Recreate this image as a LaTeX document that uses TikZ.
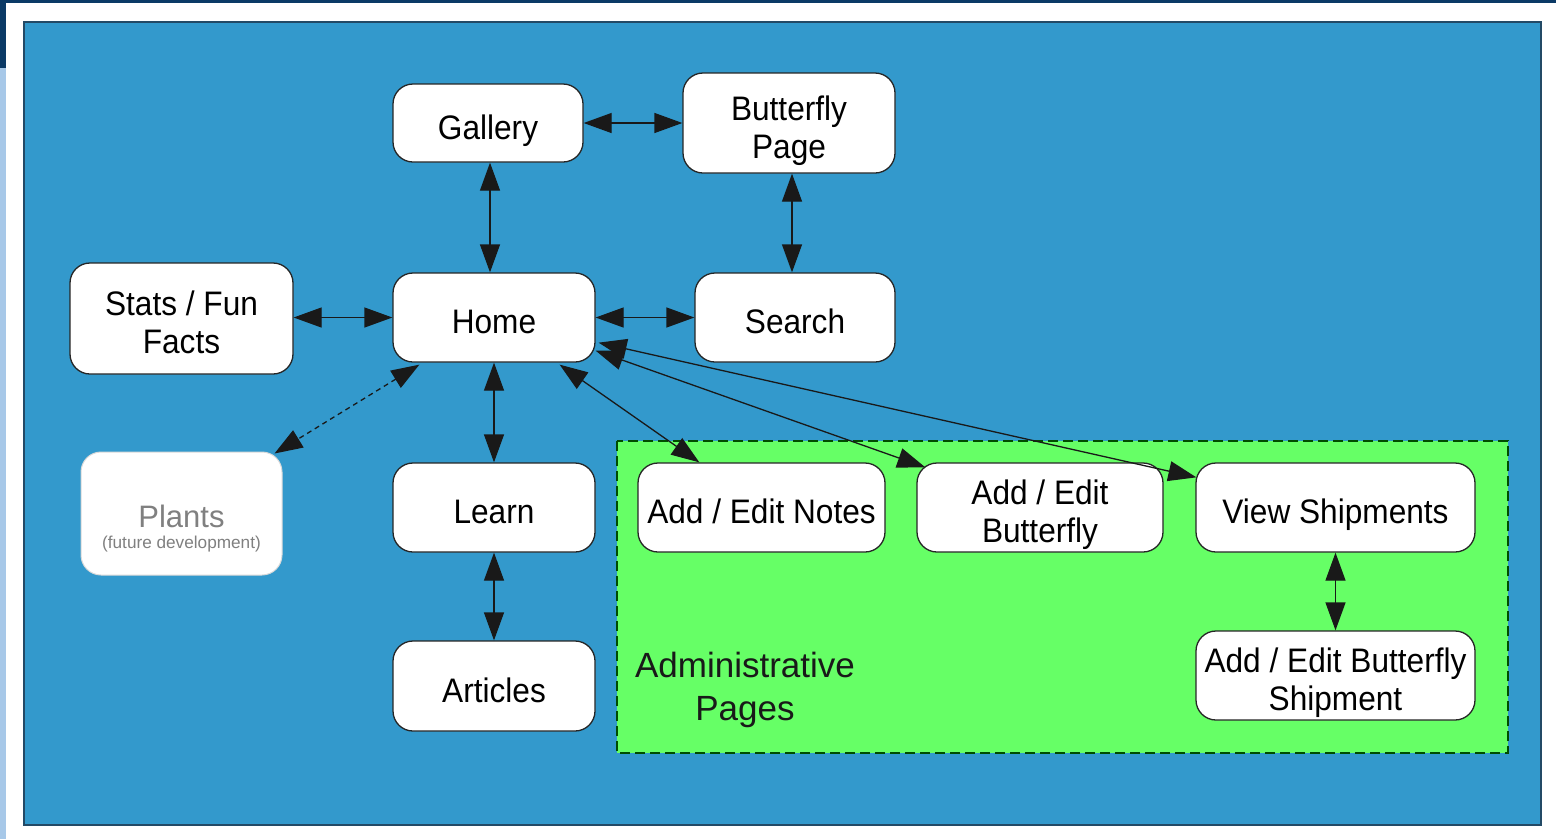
\documentclass[tikz,border=0pt]{standalone}
\usepackage{fontspec}
\setmainfont{Liberation Sans}[FakeStretch=0.93]
\newfontfamily\plainsans{Liberation Sans}
\usetikzlibrary{arrows.meta,calc}
\definecolor{bgblue}{HTML}{3399CC}
\definecolor{navy}{HTML}{0B3A66}
\definecolor{paleblue}{HTML}{A7C8E8}
\definecolor{admgreen}{HTML}{66FF66}
\definecolor{frame}{HTML}{234A66}
\newcommand{\lifted}[2]{\raisebox{#1}[\height][\depth]{\begin{tabular}{@{}c@{}}#2\end{tabular}}}
\tikzset{
  x=1pt,y=-1pt,
  pagebox/.style={draw=black!85,line width=1.3pt,fill=white,rounded corners=20pt,
    inner sep=0pt,font=\fontsize{34}{38}\selectfont},
  futurebox/.style={draw=black!15,line width=1pt,fill=white,rounded corners=20pt,
    inner sep=0pt,text=black!50,font=\plainsans\fontsize{17.2}{21}\selectfont},
  link/.style={line width=1.3pt,draw=black!90,{Triangle[length=28pt,width=20pt]}-{Triangle[length=28pt,width=20pt]}},
  futurelink/.style={link,dashed,dash pattern=on 5pt off 4pt},
}
\begin{document}
\begin{tikzpicture}
\useasboundingbox (0,0) rectangle (1556,839);
\fill[white] (0,0) rectangle (1556,839);
\fill[navy] (0,0) rectangle (1556,3);
\fill[navy] (0,0) rectangle (6,68);
\fill[paleblue] (0,68) rectangle (6,839);
\draw[fill=bgblue,draw=frame,line width=1.6pt] (24,22) rectangle (1541,825);
% admin area
\draw[fill=admgreen,draw=black!70!green,line width=1.2pt,dash pattern=on 10pt off 5pt] (617,441) rectangle (1508,753);
\node[align=center,font=\plainsans\fontsize{35}{43}\selectfont,text=black!90,inner sep=0pt] (admtext) at (745,689.5) {Administrative\\Pages};
% nodes
\node[pagebox,minimum width=190pt,minimum height=78pt] (gallery) at (488,123) {\lifted{-8.5pt}{Gallery}};
\node[pagebox,minimum width=212pt,minimum height=100pt] (bpage) at (789,123) {\lifted{-8.5pt}{Butterfly\\Page}};
\node[pagebox,minimum width=223pt,minimum height=111pt] (stats) at (181.5,318.5) {\lifted{-8.5pt}{Stats / Fun\\Facts}};
\node[pagebox,minimum width=202pt,minimum height=89pt] (home) at (494,317.5) {\lifted{-8.5pt}{Home}};
\node[pagebox,minimum width=200pt,minimum height=89pt] (search) at (795,317.5) {\lifted{-8.5pt}{Search}};
\node[futurebox,minimum width=201pt,minimum height=123pt] (plants) at (181.5,513.5) {\lifted{-16pt}{{\fontsize{31}{34}\selectfont Plants}\\(future development)}};
\node[pagebox,minimum width=202pt,minimum height=89pt] (learn) at (494,507.5) {\lifted{-8.5pt}{Learn}};
\node[pagebox,minimum width=202pt,minimum height=90pt] (articles) at (494,686) {\lifted{-8.5pt}{Articles}};
\node[pagebox,minimum width=247pt,minimum height=89pt] (notes) at (761.5,507.5) {\lifted{-8.5pt}{Add / Edit Notes}};
\node[pagebox,minimum width=246pt,minimum height=89pt] (aeb) at (1040,507.5) {\lifted{-8.5pt}{Add / Edit\\Butterfly}};
\node[pagebox,minimum width=279pt,minimum height=89pt] (views) at (1335.5,507.5) {\lifted{-8.5pt}{View Shipments}};
\node[pagebox,minimum width=279pt,minimum height=89pt] (aeship) at (1335.5,675.5) {\lifted{-8.5pt}{Add / Edit Butterfly\\Shipment}};
% connectors
\draw[link] (gallery.east) -- (bpage.west |- gallery.east);
\draw[link] ($(gallery.south)+(2,0)$) -- ($(home.north)+(-4,0)$);
\draw[link] ($(bpage.south)+(3,0)$) -- ($(search.north)+(-3,0)$);
\draw[link] (stats.east |- home.east) -- (home.west);
\draw[link] (home.east) -- (search.west);
\draw[link] (home.south) -- (learn.north);
\draw[link] (learn.south) -- (articles.north);
\draw[link] (views.south) -- (aeship.north);
\draw[futurelink] ($(home.south west)+(27,2)$) -- ($(plants.north east)+(-8,2)$);
\draw[link] ($(home.south east)+(-36,2)$) -- ($(notes.north west)+(62,0)$);
\draw[link] ($(home.south east)+(0,-12)$) -- ($(aeb.north west)+(9,5)$);
\draw[link] ($(home.south east)+(3,-20)$) -- ($(views.north west)+(1,15)$);
\end{tikzpicture}
\end{document}
